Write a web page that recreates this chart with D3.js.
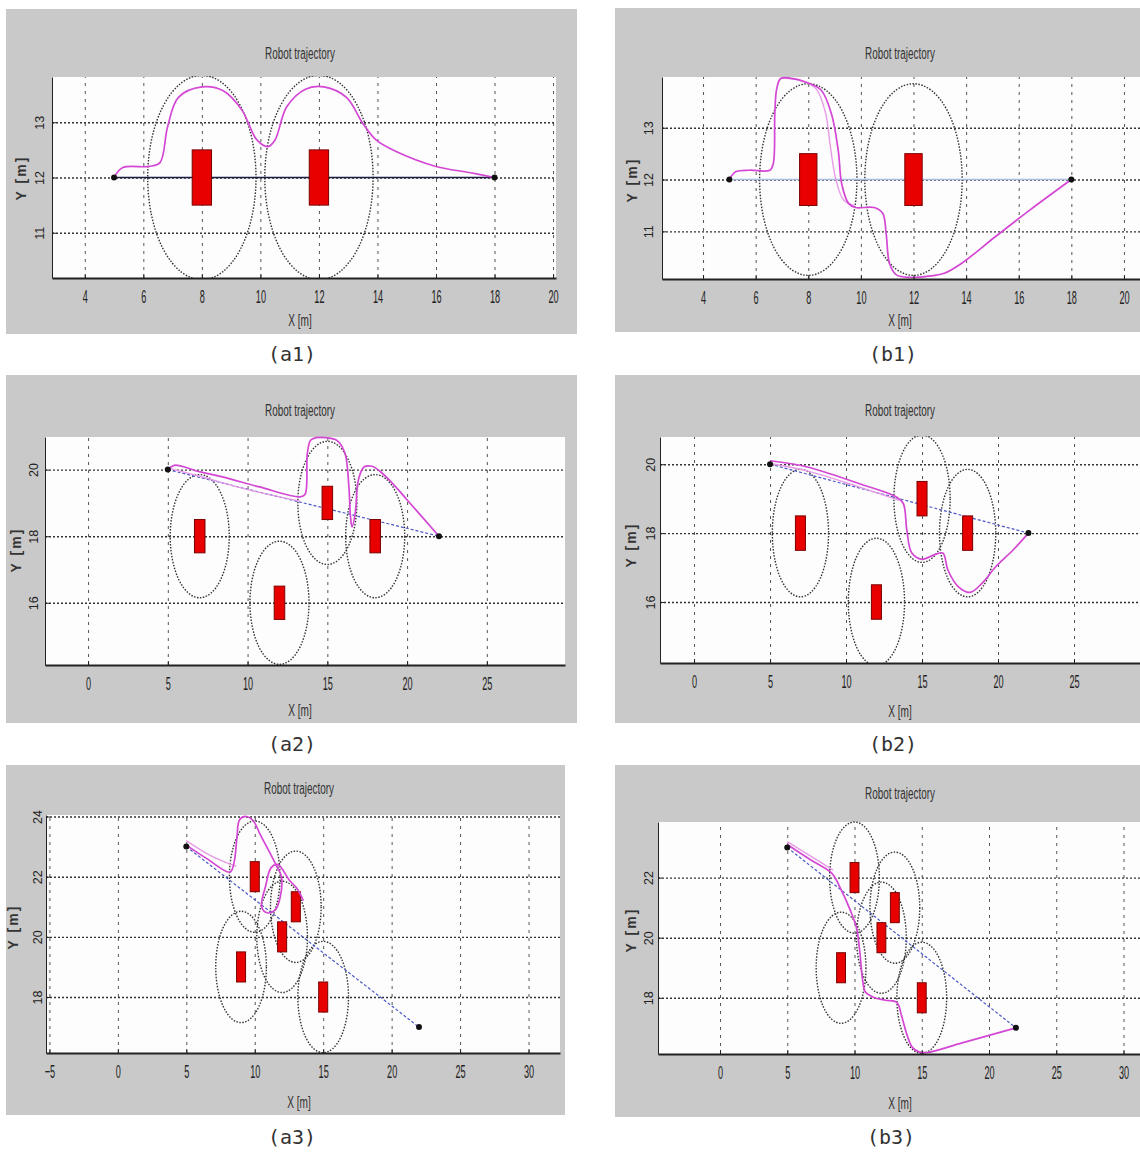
<!DOCTYPE html>
<html><head><meta charset="utf-8">
<script src="https://cdn.jsdelivr.net/npm/d3@7"></script>
<style>
html,body{margin:0;padding:0;background:#fff;}
svg{display:block;}
</style></head><body>
<svg id="c" width="1140" height="1153"></svg>
<script>
// ---------------- data ----------------
const titleText = "Robot trajectory";
const xLabelText = "X [m]";
const yLabelText = "Y [m]";
const captions = ["(a1)", "(b1)", "(a2)", "(b2)", "(a3)", "(b3)"];

const safetyRadius = 1.85;
const obstacleW = 0.66, obstacleH = 1.0;

const obstacles1 = [[8, 12], [12, 12]];
const obstacles2 = [[7, 18], [12, 16], [15, 19], [18, 18]];
const obstacles3 = [[10, 22], [13, 21], [12, 20], [9, 19], [15, 18]];

const start1 = [5, 12], goal1 = [18, 12];
const start2 = [5, 20], goal2 = [22, 18];
const start3 = [5, 23], goal3 = [22, 17];

const xTicks1 = [4, 6, 8, 10, 12, 14, 16, 18, 20];
const yTicks1 = [11, 12, 13];
const xTicks2 = [0, 5, 10, 15, 20, 25];
const yTicks2 = [16, 18, 20];
const xTicksA3 = [-5, 0, 5, 10, 15, 20, 25, 30];
const yTicksA3 = [18, 20, 22, 24];
const xTicksB3 = [0, 5, 10, 15, 20, 25, 30];
const yTicksB3 = [18, 20, 22];

const pathA1 = [[5,12],[5.3,12.18],[6.2,12.2],[6.57,12.27],[6.83,12.92],[7.2,13.45],[8,13.64],[8.73,13.57],[9.37,13.22],[9.88,12.68],[10.26,12.56],[10.5,12.68],[10.9,13.28],[11.54,13.6],[12.17,13.64],[12.94,13.45],[13.5,12.98],[13.95,12.68],[14.6,12.48],[16,12.2],[17.14,12.09],[18,12]];
const pathB1 = [[5,12],[5.24,12.15],[5.76,12.18],[6.54,12.18],[6.67,12.31],[6.73,13.3],[6.8,13.75],[6.95,13.95],[7.3,13.96],[7.97,13.87],[8.5,13.72],[8.88,13.27],[9.14,12.56],[9.27,11.92],[9.53,11.54],[9.79,11.46],[10.5,11.46],[10.83,11.35],[10.96,10.96],[11.09,10.38],[11.35,10.16],[11.87,10.11],[12.65,10.14],[13.17,10.19],[13.82,10.38],[15.12,10.9],[16.42,11.41],[18,12]];
const pathB1b = [[7.0,13.96],[7.8,13.9],[8.3,13.75],[8.65,13.3],[8.85,12.6],[9.05,12.0],[9.35,11.6],[9.75,11.5]];
const pathA2 = [[5,20],[5.4,20.13],[7.03,19.93],[8.42,19.78],[10.74,19.48],[13.3,19.18],[13.6,19.25],[13.75,20.5],[13.95,20.88],[14.3,20.96],[14.9,20.96],[15.6,20.88],[16.1,20.5],[16.35,19.5],[16.45,18.6],[16.55,18.28],[16.75,18.7],[16.95,19.7],[17.3,20.08],[17.8,20.1],[18.3,19.95],[19.1,19.58],[20.02,19.08],[22,18]];
const pathA2b = [[5,20.05],[7,19.8],[10,19.4],[13.3,19.05]];
const pathB2 = [[5,20.1],[7.45,19.92],[10.84,19.44],[13.32,19.05],[13.77,18.86],[14,18.09],[14.33,17.42],[15,17.24],[15.8,17.37],[16.37,17.42],[16.7,16.93],[17.38,16.45],[18.17,16.28],[18.96,16.55],[19.86,17.03],[20.99,17.51],[22,18]];
const pathB2b = [[5,20.02],[7.5,19.8],[10.8,19.35],[13.5,18.95]];
const pathA3 = [[5,23.05],[6.5,22.6],[8.2,22.15],[8.5,22.5],[8.7,23.3],[8.9,23.9],[9.4,24.0],[9.9,23.85],[10.4,23.4],[11.1,22.8],[11.6,22.35],[11.95,22.0],[11.85,21.3],[11.5,20.9],[10.9,20.8],[10.5,21.0],[10.8,21.7],[11.2,22.3],[11.7,22.4],[12.5,21.9],[13.1,21.6],[13.55,21.2]];
const pathA3b = [[5,23.2],[6.7,22.72],[8.66,22.34]];
const pathB3 = [[5,23.1],[6.7,22.6],[8.3,22.15],[9.0,21.6],[9.7,20.9],[10.16,20.3],[10.4,19.5],[10.6,18.6],[10.8,18.2],[11.4,18.02],[12.3,17.92],[13.14,17.85],[13.5,17.4],[13.88,16.8],[14.3,16.35],[14.8,16.2],[15.4,16.18],[18,16.5],[22,17]];
const pathB3b = [[5,23.2],[6.8,22.7],[8.4,22.25]];

// ---------------- layout (positions / styles) ----------------
const panels = [
  {gray:[6,9,577,334], plot:[52,77,556,278], xDom:[2.88,20.1], yDom:[10.18,13.82], xTicks:xTicks1, yTicks:yTicks1,
   obstacles:obstacles1, start:start1, goal:goal1, path:pathA1, path2:null, lineStyle:"darkSolid",
   titleX:300, titleY:55, xlabX:300, xlabY:322, ylabX:22, ylabY:178, ytickX:41, capX:292, capY:355},
  {gray:[615,8,1145,332], plot:[662,77,1150,279], xDom:[2.44,20.99], yDom:[10.08,13.98], xTicks:xTicks1, yTicks:yTicks1,
   obstacles:obstacles1, start:start1, goal:goal1, path:pathB1, path2:pathB1b, lineStyle:"lightSolid",
   titleX:900, titleY:55, xlabX:900, xlabY:322, ylabX:633, ylabY:180, ytickX:650, capX:893, capY:355},
  {gray:[6,375,577,723], plot:[45,437,565,665], xDom:[-2.7,29.9], yDom:[14.13,20.98], xTicks:xTicks2, yTicks:yTicks2,
   obstacles:obstacles2, start:start2, goal:goal2, path:pathA2, path2:pathA2b, lineStyle:"dashed",
   titleX:300, titleY:412, xlabX:300, xlabY:712, ylabX:17, ylabY:550, ytickX:35, capX:292, capY:745},
  {gray:[615,375,1145,723], plot:[660,437,1150,663], xDom:[-2.24,30], yDom:[14.23,20.79], xTicks:xTicks2, yTicks:yTicks2,
   obstacles:obstacles2, start:start2, goal:goal2, path:pathB2, path2:pathB2b, lineStyle:"dashed",
   titleX:900, titleY:412, xlabX:900, xlabY:713, ylabX:632, ylabY:545, ytickX:652, capX:893, capY:745},
  {gray:[6,765,565,1115], plot:[46,815,560,1053], xDom:[-5.25,32.3], yDom:[16.14,24.05], xTicks:xTicksA3, yTicks:yTicksA3,
   obstacles:obstacles3, start:start3, goal:goal3, path:pathA3, path2:pathA3b, lineStyle:"dashed",
   titleX:299, titleY:790, xlabX:299, xlabY:1104, ylabX:14, ylabY:927, ytickX:39, capX:292, capY:1138},
  {gray:[615,765,1145,1117], plot:[658,822,1150,1054], xDom:[-4.61,31.97], yDom:[16.13,23.85], xTicks:xTicksB3, yTicks:yTicksB3,
   obstacles:obstacles3, start:start3, goal:goal3, path:pathB3, path2:pathB3b, lineStyle:"dashed",
   titleX:900, titleY:795, xlabX:900, xlabY:1105, ylabX:632, ylabY:930, ytickX:650, capX:891, capY:1138}
];

const FONT = "'Liberation Sans', Arial, sans-serif";
const intFmt = d3.format("d");
const svg = d3.select("#c");
const defs = svg.append("defs");

panels.forEach((p, i) => {
  const [gx0, gy0, gx1, gy1] = p.gray;
  const [px0, py0, px1, py1] = p.plot;
  const x = d3.scaleLinear().domain(p.xDom).range([px0, px1]);
  const y = d3.scaleLinear().domain(p.yDom).range([py1, py0]);
  const g = svg.append("g");

  g.append("rect").attr("x", gx0).attr("y", gy0).attr("width", gx1 - gx0).attr("height", gy1 - gy0).attr("fill", "#c9c9c9");
  g.append("rect").attr("x", px0).attr("y", py0).attr("width", px1 - px0).attr("height", py1 - py0).attr("fill", "#fdfdfd");

  const cid = "clip" + i;
  defs.append("clipPath").attr("id", cid).append("rect")
    .attr("x", px0).attr("y", py0 - 1).attr("width", px1 - px0).attr("height", py1 - py0 + 1);

  // grid
  const gx = g.append("g").attr("transform", `translate(0,${py1})`)
    .call(d3.axisBottom(x).tickValues(p.xTicks).tickSize(-(py1 - py0)).tickFormat(""));
  gx.select(".domain").remove();
  gx.selectAll("line").attr("stroke", "#555").attr("stroke-width", 1).attr("stroke-dasharray", "3,5");
  const gy = g.append("g").attr("transform", `translate(${px0},0)`)
    .call(d3.axisLeft(y).tickValues(p.yTicks).tickSize(-(px1 - px0)).tickFormat(""));
  gy.select(".domain").remove();
  gy.selectAll("line").attr("stroke", "#333").attr("stroke-width", 1.4).attr("stroke-dasharray", "2,2");

  // content
  const c = g.append("g").attr("clip-path", `url(#${cid})`);
  c.selectAll("ellipse").data(p.obstacles).join("ellipse")
    .attr("cx", d => x(d[0])).attr("cy", d => y(d[1]))
    .attr("rx", d => x(d[0] + safetyRadius) - x(d[0]))
    .attr("ry", d => y(d[1]) - y(d[1] + safetyRadius))
    .attr("fill", "none").attr("stroke", "#333").attr("stroke-width", 1.4).attr("stroke-dasharray", "1.5,1.5");

  const straight = c.append("line")
    .attr("x1", x(p.start[0])).attr("y1", y(p.start[1]))
    .attr("x2", x(p.goal[0])).attr("y2", y(p.goal[1]));
  if (p.lineStyle === "darkSolid") straight.attr("stroke", "#1c1c44").attr("stroke-width", 1.6);
  else if (p.lineStyle === "lightSolid") straight.attr("stroke", "#a9bde4").attr("stroke-width", 1.6);
  else straight.attr("stroke", "#4a58c8").attr("stroke-width", 1.2).attr("stroke-dasharray", "3,2");

  c.selectAll("rect.obs").data(p.obstacles).join("rect").attr("class", "obs")
    .attr("x", d => x(d[0] - obstacleW / 2)).attr("y", d => y(d[1] + obstacleH / 2))
    .attr("width", d => x(d[0] + obstacleW / 2) - x(d[0] - obstacleW / 2))
    .attr("height", d => y(d[1] - obstacleH / 2) - y(d[1] + obstacleH / 2))
    .attr("fill", "#e80000").attr("stroke", "#7a0000").attr("stroke-width", 1);

  const line = d3.line().x(d => x(d[0])).y(d => y(d[1])).curve(d3.curveCatmullRom.alpha(0.5));
  if (p.path2) c.append("path").attr("d", line(p.path2)).attr("fill", "none")
    .attr("stroke", "#e79be7").attr("stroke-width", 1.4);
  c.append("path").attr("d", line(p.path)).attr("fill", "none")
    .attr("stroke", "#d447d4").attr("stroke-width", 1.7);

  c.selectAll("circle.mk").data([p.start, p.goal]).join("circle").attr("class", "mk")
    .attr("cx", d => x(d[0])).attr("cy", d => y(d[1])).attr("r", 3).attr("fill", "#111");

  // axes
  const xa = g.append("g").attr("transform", `translate(0,${py1})`)
    .call(d3.axisBottom(x).tickValues(p.xTicks).tickFormat(intFmt).tickSize(-4).tickSizeOuter(0));
  xa.select(".domain").attr("stroke", "#222").attr("stroke-width", 2);
  xa.selectAll(".tick line").attr("stroke", "#222");
  xa.selectAll(".tick text").attr("y", null).attr("dy", null)
    .attr("font-size", 19).attr("font-family", FONT).attr("fill", "#222")
    .attr("text-anchor", "middle").attr("dominant-baseline", "middle")
    .attr("transform", "translate(0,20) scale(0.48,1)");

  const ya = g.append("g").attr("transform", `translate(${px0},0)`)
    .call(d3.axisLeft(y).tickValues(p.yTicks).tickFormat(intFmt).tickSize(-4).tickSizeOuter(0));
  ya.select(".domain").attr("stroke", "#222").attr("stroke-width", 1);
  ya.selectAll(".tick line").attr("stroke", "#222");
  ya.selectAll(".tick text").attr("x", null).attr("dy", null)
    .attr("font-size", 12.5).attr("font-family", FONT).attr("fill", "#222")
    .attr("text-anchor", "middle").attr("dominant-baseline", "middle")
    .attr("transform", `translate(${p.ytickX - px0},0) rotate(-90)`);

  // texts
  g.append("text").text(titleText)
    .attr("transform", `translate(${p.titleX},${p.titleY}) scale(0.62,1)`)
    .attr("text-anchor", "middle").attr("dominant-baseline", "middle")
    .attr("font-family", FONT).attr("font-size", 16).attr("fill", "#333");
  g.append("text").text(xLabelText)
    .attr("transform", `translate(${p.xlabX},${p.xlabY}) scale(0.63,1)`)
    .attr("text-anchor", "middle").attr("dominant-baseline", "middle")
    .attr("font-family", FONT).attr("font-size", 16).attr("fill", "#333");
  g.append("text").text(yLabelText)
    .attr("transform", `translate(${p.ylabX},${p.ylabY}) rotate(-90)`)
    .attr("text-anchor", "middle").attr("dominant-baseline", "middle")
    .attr("font-family", FONT).attr("font-size", 14).attr("font-weight", "bold")
    .attr("letter-spacing", 2).attr("fill", "#333");
  g.append("text").text(captions[i])
    .attr("x", p.capX).attr("y", p.capY)
    .attr("text-anchor", "middle").attr("dominant-baseline", "middle")
    .attr("font-family", "'DejaVu Sans Mono', monospace").attr("font-size", 20).attr("fill", "#333");
});
</script>
</body></html>
